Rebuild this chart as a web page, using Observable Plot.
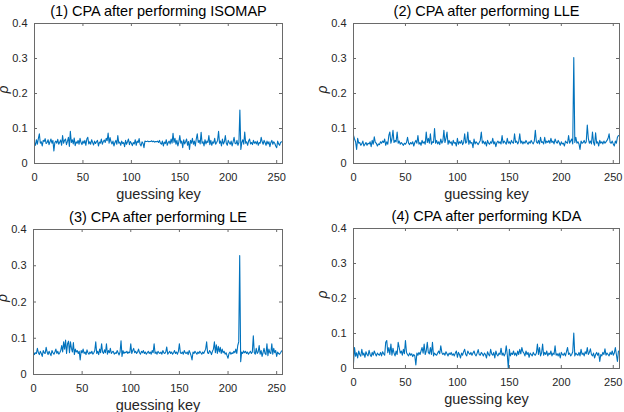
<!DOCTYPE html>
<html>
<head>
<meta charset="utf-8">
<script src="https://cdn.jsdelivr.net/npm/d3@7"></script>
<script src="https://cdn.jsdelivr.net/npm/@observablehq/plot@0.6"></script>
<style>
  body { margin: 0; background: #fff; }
  #wrap { position: relative; width: 624px; height: 412px; overflow: hidden; background: #fff; }
  .panel { position: absolute; }
</style>
</head>
<body>
<div id="wrap"></div>
<script>
const titles = [
  "(1) CPA after performing ISOMAP",
  "(2) CPA after performing LLE",
  "(3) CPA after performing LE",
  "(4) CPA after performing KDA"
];
const xLabel = "guessing key";
const yLabel = "ρ";
const xTicks = [0, 50, 100, 150, 200, 250];
const yTicks = [0, 0.1, 0.2, 0.3, 0.4];

const isomap = [
.060,.052,.068,.055,.072,.085,.058,.062,.050,.066,.063,.071,.057,.060,.068,.054,
.062,.070,.058,.066,.036,.060,.064,.058,.069,.055,.061,.067,.052,.080,.058,.066,
.070,.054,.063,.075,.049,.092,.060,.068,.056,.073,.051,.062,.058,.066,.055,.072,
.060,.054,.064,.058,.066,.052,.070,.075,.056,.062,.055,.068,.060,.053,.064,.057,
.062,.066,.050,.061,.058,.070,.055,.063,.067,.060,.072,.065,.087,.058,.074,.062,
.056,.064,.050,.060,.066,.055,.080,.058,.061,.052,.064,.057,.060,.048,.066,.055,
.062,.070,.054,.063,.058,.051,.060,.056,.068,.052,.064,.060,.071,.055,.050,.062,
.058,.045,.064,.063,.063,.064,.062,.063,.063,.065,.062,.064,.061,.063,.062,.064,
.060,.066,.058,.055,.064,.050,.061,.057,.068,.052,.060,.064,.056,.070,.058,.086,
.060,.072,.055,.066,.050,.062,.080,.058,.064,.045,.068,.056,.062,.070,.052,.063,
.040,.066,.058,.072,.055,.064,.050,.070,.085,.060,.066,.056,.089,.058,.062,.050,
.068,.056,.064,.060,.080,.054,.066,.052,.062,.058,.072,.055,.060,.066,.092,.058,
.064,.050,.070,.056,.062,.080,.058,.052,.066,.060,.055,.064,.050,.062,.075,.058,
.056,.066,.052,.060,.153,.040,.060,.068,.055,.090,.058,.062,.052,.064,.070,.056,
.060,.054,.066,.058,.062,.056,.064,.052,.060,.058,.075,.062,.055,.066,.060,.052,
.064,.056,.062,.048,.060,.066,.055,.062,.058,.050,.045,.064,.056,.052,.060,.062
];
const lle = [
.080,.070,.062,.040,.072,.058,.060,.052,.056,.064,.050,.055,.060,.052,.058,.056,
.062,.048,.066,.055,.076,.060,.058,.050,.056,.054,.062,.058,.064,.060,.070,.052,
.062,.055,.080,.090,.058,.070,.095,.060,.066,.062,.090,.058,.064,.055,.060,.056,
.052,.058,.055,.060,.075,.058,.054,.060,.056,.062,.050,.060,.066,.058,.080,.055,
.060,.052,.066,.058,.062,.055,.090,.060,.072,.058,.085,.055,.062,.060,.100,.058,
.066,.056,.062,.054,.070,.058,.064,.095,.060,.072,.090,.055,.066,.058,.062,.052,
.066,.058,.060,.050,.072,.055,.062,.058,.066,.054,.060,.085,.058,.062,.090,.055,
.066,.058,.060,.045,.070,.056,.062,.058,.054,.060,.066,.090,.058,.064,.056,.062,
.050,.066,.058,.055,.062,.058,.072,.056,.062,.048,.060,.064,.058,.062,.056,.080,
.058,.064,.060,.055,.072,.058,.062,.056,.066,.060,.058,.085,.060,.064,.056,.062,
.085,.058,.064,.056,.062,.058,.066,.060,.055,.062,.058,.066,.060,.056,.064,.095,
.062,.058,.066,.056,.075,.060,.062,.056,.075,.058,.064,.060,.066,.058,.072,.060,
.064,.056,.070,.062,.058,.066,.060,.052,.062,.056,.058,.050,.064,.060,.058,.080,
.058,.064,.070,.056,.303,.060,.075,.058,.062,.056,.040,.064,.058,.060,.066,.058,
.062,.110,.072,.058,.064,.056,.090,.060,.052,.088,.058,.062,.050,.066,.058,.062,
.056,.064,.058,.062,.066,.072,.085,.060,.058,.064,.056,.050,.064,.058,.075,.080
];
const le = [
.062,.055,.060,.058,.072,.060,.055,.064,.058,.050,.066,.060,.058,.075,.062,.055,
.064,.058,.052,.066,.060,.056,.062,.070,.058,.064,.056,.060,.066,.080,.062,.090,
.070,.095,.058,.085,.092,.060,.090,.072,.062,.088,.055,.070,.062,.066,.058,.064,
.040,.066,.060,.070,.058,.062,.055,.068,.060,.056,.062,.058,.064,.056,.060,.066,
.090,.058,.064,.055,.070,.060,.085,.062,.058,.068,.060,.085,.056,.066,.060,.072,
.058,.062,.064,.056,.060,.058,.066,.060,.054,.062,.093,.050,.066,.058,.062,.060,
.064,.058,.062,.060,.085,.058,.066,.072,.060,.064,.058,.062,.070,.060,.056,.064,
.060,.066,.058,.062,.056,.060,.064,.058,.062,.056,.066,.060,.085,.058,.062,.056,
.064,.060,.058,.062,.056,.066,.060,.058,.062,.076,.056,.060,.064,.058,.062,.056,
.060,.066,.058,.062,.056,.064,.085,.060,.058,.062,.056,.066,.060,.058,.062,.055,
.066,.060,.052,.040,.062,.058,.064,.060,.056,.062,.058,.064,.060,.056,.062,.058,
.064,.070,.090,.060,.058,.066,.062,.055,.064,.070,.090,.060,.082,.058,.078,.062,
.075,.058,.070,.060,.064,.056,.060,.052,.045,.058,.062,.056,.060,.058,.064,.060,
.070,.058,.080,.090,.328,.035,.062,.058,.065,.060,.064,.058,.062,.056,.060,.064,
.058,.062,.107,.060,.056,.072,.058,.062,.080,.056,.066,.050,.060,.072,.058,.055,
.085,.052,.070,.060,.058,.085,.056,.072,.060,.066,.050,.062,.058,.056,.060,.065
];
const kda = [
.015,.060,.035,.045,.030,.050,.040,.035,.055,.038,.044,.032,.048,.040,.036,.052,
.040,.034,.046,.038,.050,.042,.036,.044,.040,.038,.046,.036,.048,.042,.038,.075,
.080,.045,.060,.040,.070,.038,.058,.044,.036,.050,.040,.075,.060,.044,.050,.038,
.055,.042,.080,.046,.040,.036,.044,.038,.042,.034,.040,.036,.010,.044,.038,.046,
.040,.050,.060,.044,.070,.040,.050,.075,.046,.042,.060,.040,.075,.036,.044,.040,
.038,.044,.050,.042,.065,.046,.040,.044,.038,.048,.042,.036,.044,.040,.046,.038,
.042,.036,.044,.050,.032,.046,.040,.030,.044,.038,.048,.055,.040,.036,.050,.044,
.040,.046,.038,.044,.050,.040,.036,.044,.054,.040,.038,.046,.042,.036,.044,.040,
.030,.048,.040,.036,.055,.042,.038,.046,.030,.050,.040,.036,.044,.040,.058,.038,
.044,.036,.042,.065,.040,.000,.055,.036,.044,.040,.050,.038,.044,.036,.050,.040,
.055,.042,.060,.048,.044,.036,.050,.040,.046,.032,.044,.040,.036,.046,.040,.038,
.044,.070,.040,.060,.036,.044,.070,.038,.046,.040,.050,.036,.044,.040,.050,.036,
.044,.040,.065,.038,.042,.036,.044,.030,.046,.040,.038,.044,.036,.048,.060,.040,
.044,.036,.040,.048,.101,.036,.044,.040,.038,.046,.036,.055,.040,.044,.036,.048,
.042,.060,.040,.046,.056,.040,.036,.044,.030,.040,.046,.038,.044,.020,.040,.036,
.046,.040,.056,.038,.044,.040,.036,.046,.040,.050,.038,.044,.060,.040,.020,.050
];

const seriesList = [isomap, lle, le, kda];

const layout = [
  {left: 0,   top: 0,   ml: 34, mr: 30, mt: 23, mb: 43},
  {left: 312, top: 0,   ml: 41, mr: 5,  mt: 23, mb: 43},
  {left: 0,   top: 206, ml: 33, mr: 30, mt: 23, mb: 38},
  {left: 312, top: 206, ml: 41, mr: 5,  mt: 22, mb: 44}
];

const W = 312, H = 206;
const axisColor = "#262626";
const boxColor = "#6a6a6a";
const tickLen = 3;

const wrap = document.getElementById("wrap");

layout.forEach((L, i) => {
  const vals = seriesList[i];
  const data = vals.map((v, k) => ({key: k, rho: v}));
  const fw = W - L.ml - L.mr;
  const fh = H - L.mt - L.mb;
  const chart = Plot.plot({
    width: W,
    height: H,
    marginLeft: L.ml,
    marginRight: L.mr,
    marginTop: L.mt,
    marginBottom: L.mb,
    style: {
      fontFamily: "'Liberation Sans', Arial, Helvetica, sans-serif",
      fontSize: "11px",
      color: axisColor,
      background: "#fff",
      overflow: "visible"
    },
    x: {domain: [0, 256]},
    y: {domain: [0, 0.4]},
    marks: [
      Plot.line(data, {x: "key", y: "rho", stroke: "#0072BD", strokeWidth: 1.1}),
      Plot.frame({stroke: boxColor, strokeWidth: 1}),
      // inward ticks: bottom, top, left, right
      Plot.tickX(xTicks, {x: d => d, insetTop: fh - tickLen, stroke: boxColor}),
      Plot.tickX(xTicks, {x: d => d, insetBottom: fh - tickLen, stroke: boxColor}),
      Plot.tickY(yTicks, {y: d => d, insetRight: fw - tickLen, stroke: boxColor}),
      Plot.tickY(yTicks, {y: d => d, insetLeft: fw - tickLen, stroke: boxColor}),
      Plot.axisX(xTicks, {tickSize: 0, tickPadding: 10, label: null, fill: axisColor, fontSize: 11}),
      Plot.axisY(yTicks, {tickSize: 0, tickPadding: 7, label: null, fill: axisColor, fontSize: 11,
        tickFormat: d => d === 0 ? "0" : d.toFixed(1)}),
      Plot.text([titles[i]], {frameAnchor: "top", lineAnchor: "middle", dy: -12, fontSize: 14.5, fill: "#000"}),
      Plot.text([xLabel], {frameAnchor: "bottom", lineAnchor: "middle", dy: 31, fontSize: 14.5, fill: axisColor}),
      Plot.text([yLabel], {frameAnchor: "left", lineAnchor: "middle", dx: -31, rotate: -90, fontSize: 14,
        fontStyle: "italic", fill: axisColor})
    ]
  });
  const div = document.createElement("div");
  div.className = "panel";
  div.style.left = L.left + "px";
  div.style.top = L.top + "px";
  div.appendChild(chart);
  wrap.appendChild(div);
});
</script>
</body>
</html>
